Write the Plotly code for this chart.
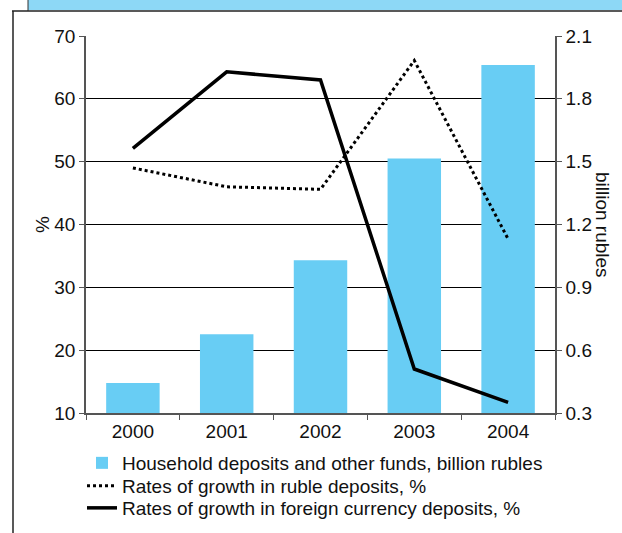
import plotly.graph_objects as go

years = ["2000", "2001", "2002", "2003", "2004"]
deposits_bn = [0.443, 0.676, 1.029, 1.515, 1.962]
ruble_growth = [49.0, 46.0, 45.6, 66.1, 37.7]
fx_growth = [52.1, 64.3, 63.0, 17.0, 11.7]

left_ticks = [10, 20, 30, 40, 50, 60, 70]
right_ticks = [0.3, 0.6, 0.9, 1.2, 1.5, 1.8, 2.1]
right_labels = ["0.3", "0.6", "0.9", "1.2", "1.5", "1.8", "2.1"]

W, H = 622, 533
L, R, T, B = 86, 555, 36, 413

def px(x):
    return (x - L) / (R - L)

def py(y):
    return (B - y) / (B - T)

font = "Liberation Sans, Arial, sans-serif"
FS = 19

fig = go.Figure()
fig.add_trace(go.Bar(
    x=years, y=deposits_bn, yaxis="y", width=0.57, legend="legend",
    marker=dict(color="#68CDF4", line=dict(width=0)),
    name="Household deposits and other funds, billion rubles",
))
fig.add_trace(go.Scatter(
    x=years, y=ruble_growth, yaxis="y2", mode="lines", legend="legend2",
    line=dict(color="black", width=3, dash="dot"),
    name="Rates of growth in ruble deposits, %",
))
fig.add_trace(go.Scatter(
    x=years, y=fx_growth, yaxis="y2", mode="lines", legend="legend3",
    line=dict(color="black", width=3.5),
    name="Rates of growth in foreign currency deposits, %",
))

def leg(ycenter):
    return dict(x=px(82), y=py(ycenter), xanchor="left", yanchor="middle",
                font=dict(size=FS, family=font), itemwidth=30,
                bgcolor="rgba(0,0,0,0)", borderwidth=0)

fig.update_layout(
    width=W, height=H,
    margin=dict(l=L, r=W - R, t=T, b=H - B, pad=0, autoexpand=False),
    paper_bgcolor="white", plot_bgcolor="white",
    font=dict(family=font, size=FS, color="#111"),
    showlegend=True,
    legend=leg(463),
    legend2=leg(486),
    legend3=leg(508),
    xaxis=dict(type="category", showline=True, linecolor="#555", linewidth=1.5,
               ticks="outside", tickson="boundaries", ticklen=5, tickcolor="#555",
               showgrid=False, tickfont=dict(size=FS), mirror=False),
    yaxis=dict(side="right", range=[0.3, 2.1], tickvals=right_ticks, ticktext=right_labels,
               showline=True, linecolor="#555", linewidth=1.5, ticks="outside",
               ticklen=5, tickcolor="#555", showgrid=True, gridcolor="black", gridwidth=1,
               zeroline=False, tickfont=dict(size=FS)),
    yaxis2=dict(side="left", overlaying="y", range=[10, 70], tickvals=left_ticks,
                showline=True, linecolor="#555", linewidth=1.5, ticks="outside",
                ticklen=5, tickcolor="#555", showgrid=False, zeroline=False,
                tickfont=dict(size=FS)),
    shapes=[
        dict(type="rect", xref="paper", yref="paper", x0=px(28), x1=px(622), y0=py(0), y1=py(10),
             fillcolor="#8DD8F6", line=dict(width=0), layer="below"),
        dict(type="line", xref="paper", yref="paper", x0=px(28), x1=px(28), y0=py(0), y1=py(11),
             line=dict(color="#333", width=1)),
        dict(type="line", xref="paper", yref="paper", x0=px(12), x1=px(622), y0=py(11), y1=py(11),
             line=dict(color="#222", width=1.5)),
        dict(type="line", xref="paper", yref="paper", x0=px(13), x1=px(13), y0=py(11), y1=py(533),
             line=dict(color="#222", width=1.5)),
    ],
    annotations=[
        dict(text="%", xref="paper", yref="paper", x=px(42), y=py(225), showarrow=False,
             xanchor="center", yanchor="middle",
             textangle=-90, font=dict(size=FS, family=font)),
        dict(text="billion rubles", xref="paper", yref="paper", x=px(603), y=py(225),
             xanchor="center", yanchor="middle",
             showarrow=False, textangle=90, font=dict(size=FS, family=font)),
    ],
)

fig.write_html("out.html", config={"displayModeBar": False},
               post_script="document.body.style.margin='0';document.body.style.overflow='hidden';")
